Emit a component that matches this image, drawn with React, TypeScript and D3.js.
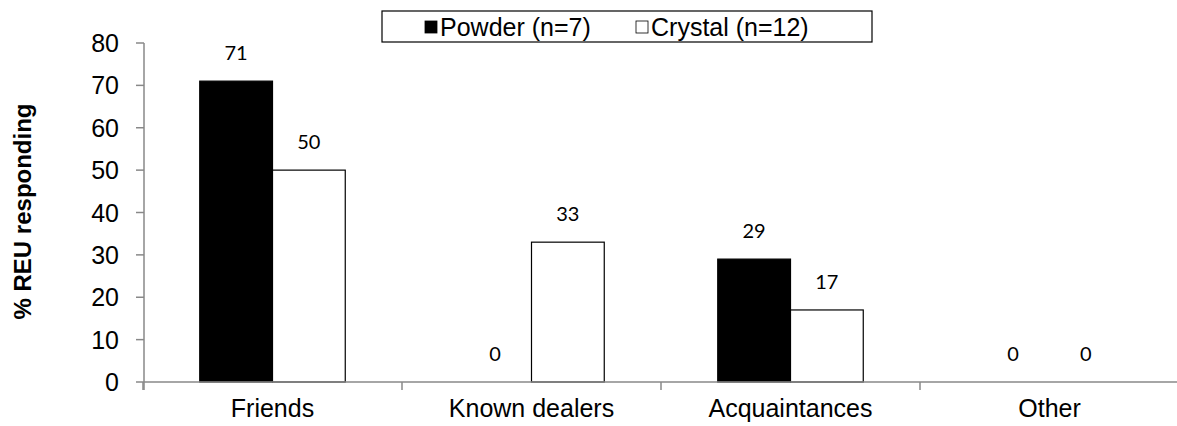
import React, { useEffect, useRef } from 'react';
import * as d3 from 'd3';

const categories = ['Friends', 'Known dealers', 'Acquaintances', 'Other'];
const seriesNames = ['Powder (n=7)', 'Crystal (n=12)'];
const powder = [71, 0, 29, 0];
const crystal = [50, 33, 17, 0];
const yTicks = [0, 10, 20, 30, 40, 50, 60, 70, 80];

const App: React.FC = () => {
  const svgRef = useRef<SVGSVGElement>(null);

  useEffect(() => {
    if (!svgRef.current) return;
    const svg = d3.select(svgRef.current);
    svg.selectAll('*').remove();

    const left = 144;
    const right = 1180;
    const top = 43;
    const bottom = 382;
    const font = '"Liberation Sans", Arial, sans-serif';

    const x = d3.scaleBand().domain(categories).range([left - 1, right - 1]).paddingInner(0).paddingOuter(0);
    const y = d3.scaleLinear().domain([0, 80]).range([bottom, top]);
    const inner = d3.scaleBand().domain(seriesNames).range([0, x.bandwidth()]).paddingInner(0).paddingOuter(0.78);

    const g = svg.append('g');

    // bars + value labels
    const series = [
      { name: seriesNames[0], values: powder, fill: '#000000' },
      { name: seriesNames[1], values: crystal, fill: '#ffffff' },
    ];
    series.forEach(s => {
      categories.forEach((c, i) => {
        const v = s.values[i];
        const bx = x(c)! + inner(s.name)!;
        if (v > 0) {
          g.append('rect')
            .attr('x', bx)
            .attr('y', y(v))
            .attr('width', inner.bandwidth())
            .attr('height', y(0) - y(v))
            .attr('fill', s.fill)
            .attr('stroke', '#000')
            .attr('stroke-width', 1.2);
        }
        g.append('text')
          .attr('x', bx + inner.bandwidth() / 2)
          .attr('y', y(v) - 21)
          .attr('text-anchor', 'middle')
          .style('font-family', 'Lato, "Liberation Sans", sans-serif')
          .style('font-size', '20px')
          .text(v);
      });
    });

    // y axis
    g.append('line')
      .attr('x1', left).attr('x2', left)
      .attr('y1', y(80)).attr('y2', bottom + 8)
      .attr('stroke', '#888').attr('stroke-width', 1.5);
    yTicks.forEach(t => {
      g.append('line')
        .attr('x1', left - 8).attr('x2', left)
        .attr('y1', y(t)).attr('y2', y(t))
        .attr('stroke', '#888').attr('stroke-width', 1.5);
      g.append('text')
        .attr('x', 119)
        .attr('y', y(t))
        .attr('dy', '0.36em')
        .attr('text-anchor', 'end')
        .style('font-family', font)
        .style('font-size', '25px')
        .text(t);
    });

    // x axis
    g.append('line')
      .attr('x1', left).attr('x2', right)
      .attr('y1', bottom).attr('y2', bottom)
      .attr('stroke', '#888').attr('stroke-width', 1.5);
    categories.forEach(c => {
      g.append('line')
        .attr('x1', x(c)!).attr('x2', x(c)!)
        .attr('y1', bottom).attr('y2', bottom + 8)
        .attr('stroke', '#888').attr('stroke-width', 1.5);
      g.append('text')
        .attr('x', x(c)! + x.bandwidth() / 2)
        .attr('y', 417)
        .attr('text-anchor', 'middle')
        .style('font-family', font)
        .style('font-size', '25px')
        .text(c);
    });

    // y title
    g.append('text')
      .attr('transform', `translate(31, ${(top + bottom) / 2 - 1}) rotate(-90)`)
      .attr('text-anchor', 'middle')
      .style('font-family', font)
      .style('font-size', '24px')
      .style('font-weight', 'bold')
      .text('% REU responding');

    // legend
    const lg = g.append('g');
    lg.append('rect')
      .attr('x', 382).attr('y', 11).attr('width', 490).attr('height', 31)
      .attr('fill', '#fff').attr('stroke', '#000').attr('stroke-width', 1.2);
    const legendX = [425, 636];
    series.forEach((s, i) => {
      lg.append('rect')
        .attr('x', legendX[i]).attr('y', 21).attr('width', 12).attr('height', 12)
        .attr('fill', s.fill).attr('stroke', '#000').attr('stroke-width', 0.8);
      lg.append('text')
        .attr('x', legendX[i] + 15)
        .attr('y', 36)
        .style('font-family', font)
        .style('font-size', '25px')
        .text(s.name);
    });
  }, []);

  return <svg ref={svgRef} width={1177} height={426} style={{ display: 'block', position: 'absolute', left: 0, top: 0, background: '#fff' }} />;
};

export default App;
